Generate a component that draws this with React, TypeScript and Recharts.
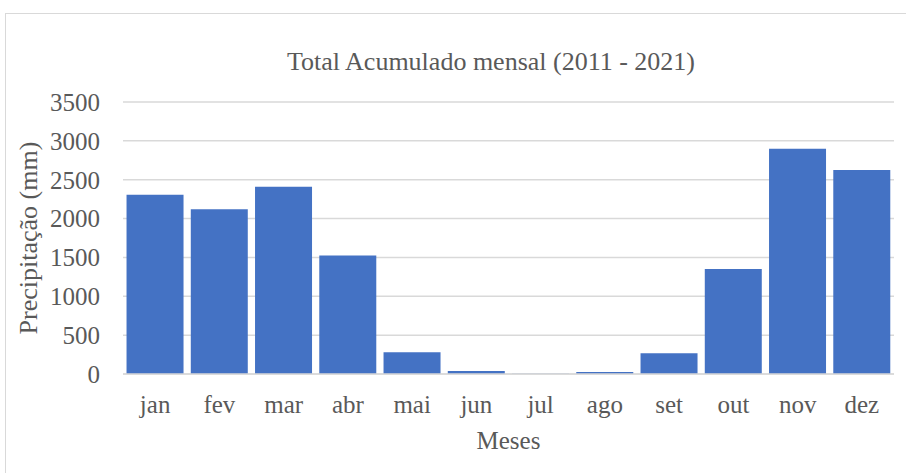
// Monthly accumulated precipitation bar chart

import { BarChart, Bar, XAxis, YAxis, CartesianGrid, Label } from 'recharts'

const months = ['jan', 'fev', 'mar', 'abr', 'mai', 'jun', 'jul', 'ago', 'set', 'out', 'nov', 'dez']
const totals = [2305, 2120, 2410, 1525, 280, 40, 3, 25, 268, 1350, 2900, 2625]
const yTicks = [0, 500, 1000, 1500, 2000, 2500, 3000, 3500]

const data = months.map((m, i) => ({ mes: m, total: totals[i] }))

const font = '"Liberation Serif", "Times New Roman", serif'
const textColor = '#595959'

export default function App() {
  return (
    <div style={{ position: 'absolute', left: 0, top: 0, width: 906, height: 473, background: '#fff' }}>
      <div
        style={{
          position: 'absolute',
          left: 5,
          top: 13,
          width: 905,
          height: 462,
          border: '1px solid #d9d9d9',
          boxSizing: 'border-box',
        }}
      />
      <div
        style={{
          position: 'absolute',
          left: 0,
          width: 982,
          top: 46,
          textAlign: 'center',
          fontFamily: font,
          fontSize: 26,
          color: textColor,
          lineHeight: '32px',
        }}
      >
        Total Acumulado mensal (2011 - 2021)
      </div>
      <div style={{ position: 'absolute', left: 0, top: 0 }}>
        <BarChart
          width={906}
          height={473}
          data={data}
          margin={{ top: 102, right: 12, bottom: 28, left: 45 }}
          barCategoryGap="5.5%"
        >
          <CartesianGrid vertical={false} stroke="#d9d9d9" strokeWidth={1.5} />
          <XAxis
            dataKey="mes"
            tickLine={false}
            axisLine={{ stroke: '#d9d9d9', strokeWidth: 1.5 }}
            tickMargin={15}
            height={71}
            tick={{ fill: textColor, fontSize: 25, fontFamily: font }}
          >
            <Label
              value="Meses"
              position="insideBottom"
              offset={-4}
              style={{ fill: textColor, fontSize: 25, fontFamily: font }}
            />
          </XAxis>
          <YAxis
            domain={[0, 3500]}
            ticks={yTicks}
            tickLine={false}
            axisLine={false}
            tickMargin={17}
            width={78}
            interval={0}
            tick={{ fill: textColor, fontSize: 25, fontFamily: font }}
          >
            <Label
              value="Precipitação (mm)"
              angle={-90}
              position="center"
              dx={-56}
              style={{ fill: textColor, fontSize: 26, fontFamily: font, textAnchor: 'middle' }}
            />
          </YAxis>
          <Bar dataKey="total" fill="#4472c4" isAnimationActive={false} />
        </BarChart>
      </div>
    </div>
  )
}
